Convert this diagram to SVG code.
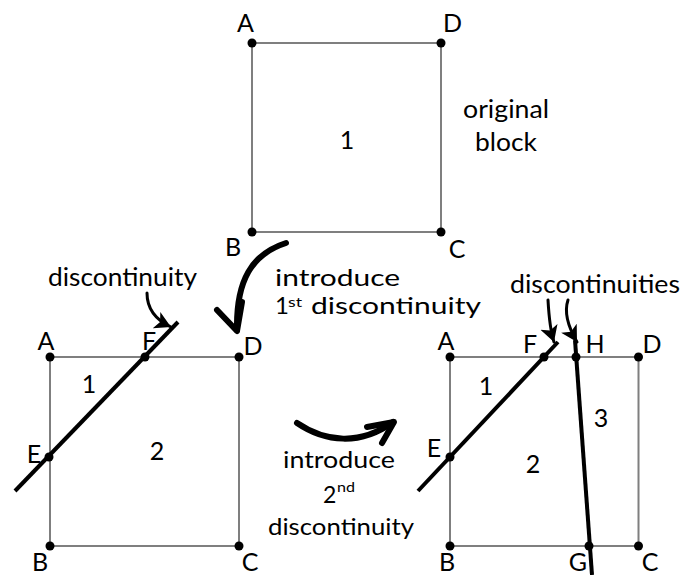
<svg xmlns="http://www.w3.org/2000/svg" width="685" height="575" viewBox="0 0 685 575">
<style>
.edge{stroke:#7f7f7f;stroke-width:2;fill:none}
.pt{fill:#000}
.disc{stroke:#000;stroke-width:4;fill:none;stroke-linecap:butt}
.big{stroke:#000;stroke-width:6;fill:none;stroke-linecap:round;stroke-linejoin:round}
.small{stroke:#000;stroke-width:3;fill:none;stroke-linecap:round}
text{font-family:Lato,"Open Sans","Liberation Sans",sans-serif;font-size:25px;fill:#000}
.c{text-anchor:middle}
</style>
<defs>
<marker id="ah" markerUnits="userSpaceOnUse" viewBox="0 -10 18 20" markerWidth="18" markerHeight="20" refX="16" refY="0" orient="auto">
<path d="M0,-9 L16,0 L0,9 L4,0 Z" fill="#000"/>
</marker>
</defs>
<rect width="685" height="575" fill="#fff"/>

<g id="block-original">
<rect class="edge" x="252" y="43" width="189" height="189"/>
<circle class="pt" cx="252" cy="43" r="4.5"/>
<circle class="pt" cx="441" cy="43" r="4.5"/>
<circle class="pt" cx="252" cy="232" r="4.5"/>
<circle class="pt" cx="441" cy="232" r="4.5"/>
<text x="237" y="32">A</text>
<text x="443" y="32">D</text>
<text class="c" x="233" y="256">B</text>
<text class="c" x="457" y="258">C</text>
<text class="c" x="347" y="149">1</text>
</g>

<g id="block-first">
<rect class="edge" x="50" y="357" width="189" height="189"/>
<line class="disc" x1="15" y1="491" x2="178" y2="322"/>
<circle class="pt" cx="50" cy="357" r="4.5"/>
<circle class="pt" cx="239" cy="357" r="4.5"/>
<circle class="pt" cx="50" cy="546" r="4.5"/>
<circle class="pt" cx="239" cy="546" r="4.5"/>
<circle class="pt" cx="145" cy="357" r="4.5"/>
<circle class="pt" cx="49" cy="457" r="4.5"/>
<text class="c" x="46" y="350">A</text>
<text class="c" x="149" y="350">F</text>
<text class="c" x="253" y="355">D</text>
<text class="c" x="34" y="463">E</text>
<text class="c" x="89" y="393">1</text>
<text class="c" x="157" y="460">2</text>
<text class="c" x="40" y="571">B</text>
<text class="c" x="250" y="571">C</text>
</g>

<g id="block-second">
<rect class="edge" x="450" y="357" width="188.5" height="189"/>
<line class="disc" x1="418" y1="491" x2="558" y2="342"/>
<line class="disc" x1="575" y1="340" x2="592" y2="575"/>
<circle class="pt" cx="450" cy="357" r="4.5"/>
<circle class="pt" cx="638.5" cy="357" r="4.5"/>
<circle class="pt" cx="450" cy="546" r="4.5"/>
<circle class="pt" cx="638.5" cy="546" r="4.5"/>
<circle class="pt" cx="544" cy="357" r="4.5"/>
<circle class="pt" cx="576" cy="357" r="4.5"/>
<circle class="pt" cx="450" cy="457" r="4.5"/>
<circle class="pt" cx="589" cy="546" r="4.5"/>
<text class="c" x="446" y="350">A</text>
<text class="c" x="530" y="353">F</text>
<text class="c" x="595" y="353">H</text>
<text class="c" x="652" y="353">D</text>
<text class="c" x="434" y="457">E</text>
<text class="c" x="486" y="395">1</text>
<text class="c" x="533" y="473">2</text>
<text class="c" x="601" y="427">3</text>
<text class="c" x="447" y="571">B</text>
<text class="c" x="578" y="571">G</text>
<text class="c" x="650" y="571">C</text>
</g>

<g id="labels">
<text x="463" y="118" textLength="86" lengthAdjust="spacingAndGlyphs">original</text>
<text x="475" y="151" textLength="62" lengthAdjust="spacingAndGlyphs">block</text>
<text x="275" y="286" style="font-size:24px" textLength="125" lengthAdjust="spacingAndGlyphs">introduce</text>
<text x="275" y="314" style="font-size:24px">1</text>
<text x="288" y="307" style="font-size:13px" textLength="14" lengthAdjust="spacingAndGlyphs">st</text>
<text x="311" y="314" style="font-size:24px" textLength="170" lengthAdjust="spacingAndGlyphs">discontinuity</text>
<text x="48" y="286" textLength="149" lengthAdjust="spacingAndGlyphs">discontinuity</text>
<text x="510" y="293" textLength="170" lengthAdjust="spacingAndGlyphs">discontinuities</text>
<text x="283" y="468" style="font-size:23px" textLength="112" lengthAdjust="spacingAndGlyphs">introduce</text>
<text x="323" y="503" style="font-size:23px">2</text>
<text x="337" y="492" style="font-size:14px" textLength="18" lengthAdjust="spacingAndGlyphs">nd</text>
<text x="268" y="535" style="font-size:23px" textLength="146" lengthAdjust="spacingAndGlyphs">discontinuity</text>
</g>

<g id="connectors">
<path class="big" d="M286,243 C252,254 236,280 237,330"/>
<path class="big" d="M217,310 L237,331 L242,302"/>
<path class="big" d="M297,423 C325,442 360,446 393,422"/>
<path class="big" d="M367,427 L394,422 L382,443"/>
<path class="small" d="M147,293 C147,310 156,320 171,327" marker-end="url(#ah)"/>
<path class="small" d="M548,300 C549,318 550,330 554,342" marker-end="url(#ah)"/>
<path class="small" d="M568,300 C563,315 570,330 577,342" marker-end="url(#ah)"/>
</g>
</svg>
